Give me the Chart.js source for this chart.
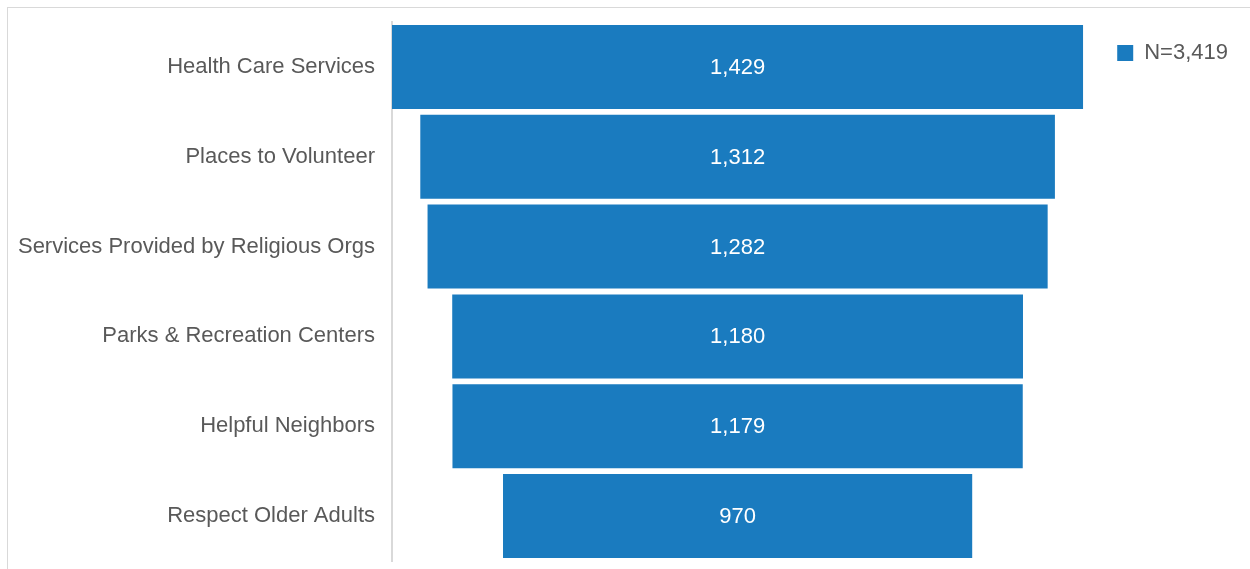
<!DOCTYPE html>
<html>
<head>
<meta charset="utf-8">
<script src="https://cdn.jsdelivr.net/npm/chart.js@4/dist/chart.umd.min.js"></script>
<style>
  html, body { margin: 0; padding: 0; background: #fff; overflow: hidden; }
  #frame {
    position: absolute; left: 7px; top: 7px;
    width: 1243px; height: 562px; overflow: hidden;
    border-left: 1px solid #d9d9d9; border-top: 1px solid #d9d9d9;
  }
  #wrap { position: absolute; left: 0; top: 0; width: 1230px; height: 561px; }
</style>
</head>
<body>
<div id="frame"><div id="wrap"><canvas id="funnel"></canvas></div></div>
<script>
// categories and counts, top of the funnel first
var categories = ["Health Care Services", "Places to Volunteer", "Services Provided by Religious Orgs",
                  "Parks & Recreation Centers", "Helpful Neighbors", "Respect Older Adults"];
var counts = [1429, 1312, 1282, 1180, 1179, 970];
var seriesName = "N=3,419";

var barColor = '#1a7bbf';
var fontFamily = '"Liberation Sans", Arial, sans-serif';

// floating bars centred on zero make the funnel
var spans = counts.map(function (v) { return [-v / 2, v / 2]; });
var half = Math.max.apply(null, counts) / 2;

// write the count in the middle of every bar
var valueLabels = {
  id: 'valueLabels',
  afterDatasetsDraw: function (chart) {
    var ctx = chart.ctx;
    var meta = chart.getDatasetMeta(0);
    ctx.save();
    ctx.fillStyle = '#ffffff';
    ctx.font = '22px ' + fontFamily;
    ctx.textAlign = 'center';
    ctx.textBaseline = 'middle';
    meta.data.forEach(function (bar, i) {
      var p = bar.getProps(['x', 'y', 'base'], true);
      ctx.fillText(counts[i].toLocaleString('en-US'), (p.x + p.base) / 2, p.y + 1);
    });
    ctx.restore();
  }
};

var ctx = document.getElementById('funnel').getContext('2d');
var chart = new Chart(ctx, {
  type: 'bar',
  data: {
    labels: categories,
    datasets: [{
      label: seriesName,
      data: spans,
      backgroundColor: barColor,
      borderWidth: 0,
      categoryPercentage: 1.0,
      barPercentage: 0.935
    }]
  },
  options: {
    indexAxis: 'y',
    responsive: true,
    maintainAspectRatio: false,
    animation: false,
    layout: { padding: { top: 0, bottom: 8, left: 0, right: 0 } },
    scales: {
      x: {
        display: false,
        min: -half,
        max: half
      },
      y: {
        afterFit: function (s) {
          s.width = 384;
          s.paddingTop = 14;
          s.paddingBottom = 0;
        },
        grid: { display: false, drawTicks: false },
        border: { display: true, color: '#d9d9d9', width: 2 },
        ticks: {
          color: '#595959',
          padding: 17,
          font: { family: fontFamily, size: 22 }
        }
      }
    },
    plugins: {
      tooltip: { enabled: false },
      legend: {
        position: 'right',
        align: 'start',
        labels: {
          boxWidth: 16,
          boxHeight: 16,
          padding: 34,
          color: '#595959',
          font: { family: fontFamily, size: 22 }
        }
      }
    }
  },
  plugins: [valueLabels]
});
</script>
</body>
</html>
